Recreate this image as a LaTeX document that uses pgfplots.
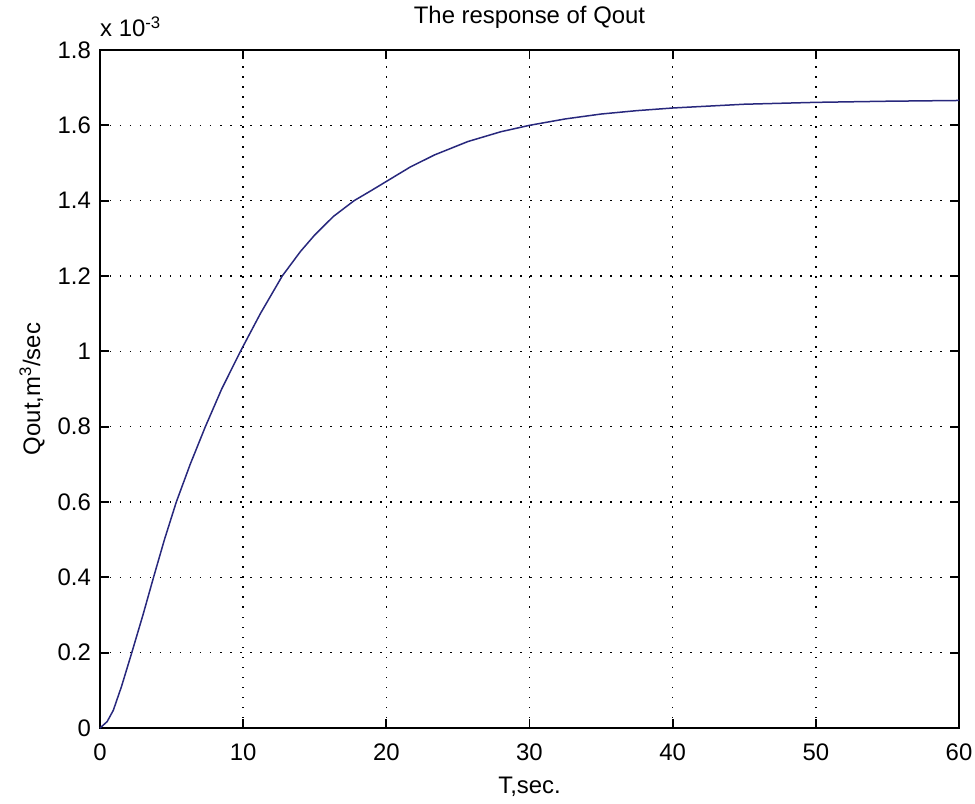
\documentclass[border=0pt]{standalone}
\usepackage{fontspec}
\setmainfont{Liberation Sans}
\usepackage{pgfplots}
\pgfplotsset{compat=1.18}
\definecolor{qblue}{RGB}{40,40,125}
\begin{document}
\begin{tikzpicture}
\useasboundingbox (-100bp,-76bp) rectangle (875bp,728bp);
\begin{axis}[
  scale only axis, width=859bp, height=678bp,
  at={(0,0)}, anchor=south west,
  xmin=0, xmax=60, ymin=0, ymax=1.8,
  xtick={0,10,20,30,40,50,60},
  xticklabels={0,10,20,30,40,50,60},
  ytick={0,0.2,0.4,0.6,0.8,1,1.2,1.4,1.6,1.8},
  yticklabels={0,0.2,0.4,0.6,0.8,1,1.2,1.4,1.6,1.8},
  grid=major,
  major grid style={black, line width=1.5bp, dash pattern=on 1.5bp off 8.5bp},
  axis line style={black, line width=1.8bp},
  major tick length=9bp,
  tick style={black, line width=1.8bp},
  tick align=inside,
  clip=false,
  font=\fontsize{24}{28}\selectfont,
  ticklabel style={font=\fontsize{24}{28}\selectfont},
  xticklabel style={anchor=base, yshift=-32bp, inner sep=0pt},
  yticklabel style={anchor=east, inner sep=0pt, xshift=-9bp},
  title={The response of Qout},
  title style={at={(axis description cs:0.5,1)}, anchor=base, yshift=21bp, inner sep=0pt, font=\fontsize{24}{28}\selectfont},
  xlabel={T,sec.},
  xlabel style={at={(axis description cs:0.5,0)}, anchor=base, yshift=-65bp, inner sep=0pt, font=\fontsize{24}{28}\selectfont},
  ylabel={Qout,m\textsuperscript{3}/sec},
  ylabel style={at={(axis description cs:-0.0698,0.5)}, anchor=base, inner sep=0pt, font=\fontsize{24}{28}\selectfont},
]
\addplot[qblue, line width=1.5bp] coordinates {
(0,0) (0.5,0.017) (0.93,0.047) (1.5,0.11) (2.22,0.2) (3,0.3) (3.74,0.4)
(4.5,0.5) (5.33,0.6) (6.3,0.7) (7.36,0.8) (8.5,0.9) (9.81,1.0) (11.2,1.1)
(12.73,1.2) (14,1.265) (15,1.309) (16.3,1.358) (17.75,1.4) (19,1.428) (20,1.451)
(21.7,1.490) (23.4,1.522) (25.7,1.557) (28,1.583) (30,1.600) (32.5,1.617)
(35,1.630) (37.5,1.639) (40,1.646) (45,1.656) (50,1.661) (55,1.664) (60,1.666)
};
\node[anchor=base west, inner sep=0pt, yshift=13bp, font=\fontsize{24}{28}\selectfont] at (rel axis cs:0,1) {x 10\textsuperscript{-3}};
\end{axis}
\end{tikzpicture}
\end{document}
